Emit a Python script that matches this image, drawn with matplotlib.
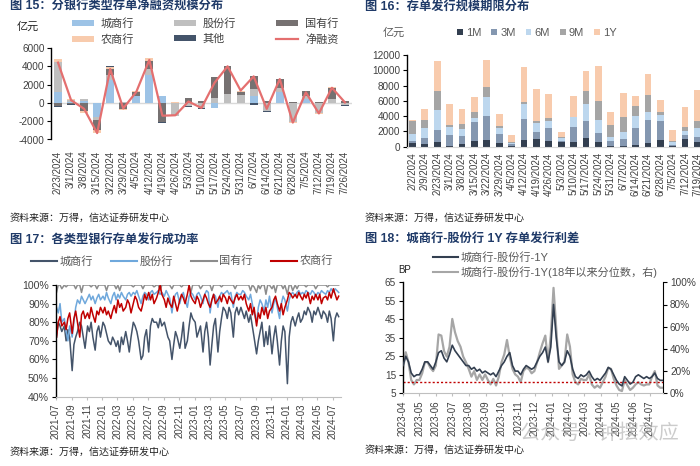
import matplotlib
matplotlib.use('Agg')
import matplotlib.pyplot as plt
import numpy as np
import pandas as pd
from matplotlib.patches import Patch
from matplotlib.lines import Line2D

plt.rcParams['font.family'] = ['Liberation Sans', 'Noto Sans CJK SC', 'DejaVu Sans']
plt.rcParams['axes.unicode_minus'] = False

# ---------------- Chart 15 data ----------------
dates15 = ['2/23/2024', '3/1/2024', '3/8/2024', '3/15/2024', '3/22/2024', '3/29/2024',
           '4/5/2024', '4/12/2024', '4/19/2024', '4/26/2024', '5/3/2024', '5/10/2024',
           '5/17/2024', '5/24/2024', '5/31/2024', '6/7/2024', '6/14/2024', '6/21/2024',
           '6/28/2024', '7/5/2024', '7/12/2024', '7/19/2024', '7/26/2024']
cs15 = [1200, 100, 250, -1500, 2500, 0, 700, 3000, 700, 0, 0, 0,
        -600, 0, 0, 700, 0, 1150, 0, 450, 0, 0, 0]
gf15 = [3300, 250, 200, -400, 500, 100, 100, 700, 0, -1400, -300, -600,
        500, 1000, 850, 800, -850, 450, -2100, 350, -1100, 450, -200]
gy15 = [-300, -150, -900, -1100, 700, -700, 400, 900, -2100, 0, 500, 250,
        2300, 3000, 350, 1400, 250, 1000, 100, 550, 150, 1200, 250]
ns15 = [300, 100, -200, -250, 200, -100, 100, 300, 0, 50, 50, 0,
        0, 50, 100, 50, 0, 50, -100, 0, -100, 50, 0]
qt15 = [-200, -50, 0, 0, 100, 0, 0, 0, -100, 0, -150, -100,
        0, 0, 0, -200, -100, 0, 0, 0, 0, 0, -100]
net15 = [4400, 300, -650, -3300, 3700, -600, 1200, 4700, -1400, -1350, 150, -550,
         2200, 4000, 1350, 2900, -650, 2600, -2150, 1150, -1150, 1650, 50]

# ---------------- Chart 16 data ----------------
dates16 = ['2/2/2024', '2/9/2024', '2/23/2024', '3/1/2024', '3/8/2024', '3/15/2024',
           '3/22/2024', '3/29/2024', '4/5/2024', '4/12/2024', '4/19/2024', '4/26/2024',
           '5/3/2024', '5/10/2024', '5/17/2024', '5/24/2024', '5/31/2024', '6/7/2024',
           '6/14/2024', '6/21/2024', '6/28/2024', '7/5/2024', '7/12/2024', '7/19/2024']
m1_16 = [500, 350, 650, 150, 400, 750, 850, 500, 150, 850, 950, 700,
         600, 650, 1100, 650, 100, 100, 200, 450, 900, 100, 1000, 650]
m3_16 = [300, 750, 1600, 1400, 1000, 2500, 3200, 1100, 250, 2750, 1000, 1800,
         100, 1900, 2200, 1200, 700, 900, 2200, 3000, 2500, 150, 550, 650]
m6_16 = [900, 1300, 2600, 1000, 900, 550, 2500, 900, 100, 2000, 1200, 800,
         500, 1300, 2300, 1650, 450, 900, 1600, 1050, 750, 400, 550, 1100]
m9_16 = [1600, 1100, 2500, 350, 700, 750, 1300, 200, 50, 300, 200, 500,
         100, 100, 1700, 2500, 1600, 2000, 1300, 2300, 450, 50, 450, 900]
y1_16 = [200, 1400, 3800, 2700, 1900, 2000, 3500, 1600, 950, 4500, 4150, 3100,
         600, 2700, 2600, 4600, 1750, 3100, 1300, 2700, 1500, 1500, 2700, 4100]

# ---------------- Chart 17 data (4 readings per month, 2021-07 .. 2024-07) ----------------
months17 = ['2021-07', '2024-07']
days17 = [3, 10, 17, 24]
cs17 = [72, 80, 78, 75, 78, 70, 76, 72, 54, 68, 72, 75, 80, 78, 72, 66, 78, 75, 80, 72, 65, 75, 78, 72,
        80, 78, 74, 70, 68, 72, 70, 67, 70, 64, 72, 68, 75, 70, 64, 72, 80, 78, 75, 70, 60, 62, 72, 76,
        64, 78, 82, 80, 80, 77, 82, 78, 80, 76, 72, 70, 60, 68, 75, 72, 66, 72, 80, 66, 70, 78, 85, 82,
        80, 72, 75, 78, 64, 75, 80, 72, 57, 68, 78, 82, 64, 75, 82, 88, 86, 82, 88, 85, 72, 85, 88, 84,
        88, 85, 82, 86, 80, 84, 78, 72, 63, 70, 75, 80, 67, 75, 68, 78, 63, 72, 78, 70, 57, 70, 78, 75,
        47, 72, 80, 83, 78, 82, 85, 80, 82, 86, 84, 88, 85, 80, 86, 84, 88, 85, 82, 86, 84, 80, 86, 82,
        70, 82, 85, 83]
gf17 = [88, 85, 90, 80, 82, 75, 70, 78, 72, 80, 88, 92, 90, 94, 92, 90, 93, 95, 92, 94, 90, 93, 95, 92,
        94, 92, 96, 93, 90, 94, 96, 92, 95, 93, 96, 94, 92, 95, 96, 94, 96, 95, 97, 94, 90, 94, 96, 95,
        92, 96, 97, 95, 96, 97, 95, 96, 94, 97, 95, 93, 85, 92, 95, 96, 90, 94, 96, 92, 88, 94, 96, 95,
        92, 95, 96, 94, 90, 95, 97, 96, 85, 92, 95, 94, 88, 94, 96, 95, 96, 97, 95, 96, 88, 94, 96, 95,
        95, 97, 96, 94, 92, 95, 90, 85, 80, 88, 92, 90, 86, 92, 88, 94, 85, 90, 93, 88, 82, 90, 94, 92,
        86, 92, 95, 96, 94, 96, 97, 95, 96, 95, 97, 96, 95, 97, 96, 94, 96, 95, 97, 96, 95, 97, 96, 98,
        96, 98, 97, 96]
gy17 = [96, 100, 100, 98, 100, 99, 100, 100, 100, 100, 98, 100, 100, 96, 100, 100, 100, 100, 99, 100,
        100, 98, 100, 100, 100, 100, 97, 100, 100, 100, 100, 98, 100, 97, 100, 100, 100, 100, 100, 100,
        99, 100, 100, 100, 100, 98, 100, 100, 100, 100, 100, 99, 100, 100, 97, 100, 100, 100, 100, 100,
        98, 100, 100, 100, 100, 99, 100, 100, 100, 100, 96, 100, 100, 100, 100, 98, 100, 100, 100, 100,
        100, 97, 100, 100, 100, 100, 99, 100, 100, 100, 100, 100, 100, 98, 100, 100, 100, 100, 100, 100,
        100, 97, 100, 99, 96, 100, 98, 100, 100, 95, 100, 100, 98, 100, 96, 100, 100, 100, 98, 100,
        95, 100, 100, 97, 100, 98, 100, 100, 100, 100, 99, 100, 100, 100, 100, 98, 100, 100, 100, 100,
        100, 99, 100, 100, 100, 100, 100, 100]
ns17 = [72, 80, 83, 78, 80, 76, 82, 85, 74, 82, 86, 80, 72, 84, 86, 82, 85, 82, 88, 84, 80, 86, 84, 88,
        85, 88, 84, 86, 82, 86, 89, 85, 92, 88, 90, 86, 88, 92, 90, 85, 90, 94, 92, 88, 86, 90, 95, 92,
        96, 92, 95, 90, 93, 96, 100, 95, 92, 88, 93, 90, 88, 94, 90, 86, 92, 95, 93, 90, 95, 100, 94, 92,
        90, 94, 92, 88, 92, 95, 93, 90, 88, 92, 95, 90, 92, 94, 91, 95, 93, 90, 94, 92, 90, 93, 95, 92,
        94, 92, 95, 90, 86, 90, 84, 88, 78, 85, 82, 88, 84, 88, 82, 86, 88, 92, 94, 90, 86, 90, 84, 88,
        92, 96, 95, 93, 95, 93, 96, 94, 92, 95, 93, 96, 90, 94, 92, 95, 92, 95, 90, 93, 94, 92, 96, 93,
        98, 95, 92, 94]

# ---------------- Chart 18 data ----------------
span18 = ['2023-04-01', '2024-07-25']
nav18 = [20, 25, 22, 16, 14, 15, 15, 18, 22, 22, 20, 18, 22, 27, 28, 24, 22, 26,
         31, 28, 26, 24, 22, 20, 20, 18, 19, 17, 18, 16, 17, 16, 15, 16, 14, 17,
         20, 22, 25, 27, 20, 17, 17, 15, 18, 20, 19, 18, 19, 22, 25, 27, 30, 22,
         30, 53, 35, 22, 20, 22, 28, 25, 18, 14, 13, 15, 14, 15, 17, 14, 12, 13, 12,
         14, 16, 19, 18, 15, 12, 10, 9, 14, 12, 10, 11, 14, 15, 14, 13, 14, 13,
         14, 16, 13, 12, 12]
pct18 = [22, 37, 28, 12, 8, 12, 12, 18, 28, 28, 23, 20, 25, 53, 52, 38, 33, 42,
         67, 55, 47, 42, 33, 28, 22, 15, 20, 12, 17, 12, 17, 12, 8, 13, 7, 15,
         28, 35, 48, 33, 22, 17, 15, 10, 20, 23, 22, 18, 20, 28, 37, 45, 52, 28,
         52, 95, 58, 22, 25, 28, 53, 42, 17, 10, 8, 13, 12, 12, 17, 8, 5, 7, 5,
         10, 15, 23, 22, 13, 7, 3, 2, 12, 7, 3, 5, 8, 10, 8, 7, 8, 8,
         15, 20, 7, 5, 5]
ref18 = 10  # percentile reference line (%)

TITLE_C = '#1F3A68'
TICK_C = '#404040'

fig = plt.figure(figsize=(7, 4.66), dpi=100)
W, H = 700.0, 466.0


def fx(px):
    return px / W


def fy(py):
    return 1 - py / H


def title(px, py, s):
    fig.text(fx(px), fy(py), s, fontsize=8.8, fontweight='bold', color=TITLE_C,
             ha='left', va='center')


def source(px, py):
    fig.text(fx(px), fy(py), '资料来源：万得，信达证券研发中心', fontsize=7.2,
             color='#222222', ha='left', va='center', style='italic')


def style_left(ax):
    for s in ['top', 'right']:
        ax.spines[s].set_visible(False)
    ax.spines['left'].set_color('#000000')
    ax.spines['left'].set_linewidth(1.0)
    ax.tick_params(axis='y', direction='out', length=3, width=0.8, labelsize=7.2,
                   labelcolor=TICK_C, pad=2)
    ax.tick_params(axis='x', labelsize=7, labelcolor=TICK_C)


# ================= Chart 15 =================
ax15 = fig.add_axes([fx(51.5), fy(139.5), fx(300), (139.5 - 48) / H])
x15 = np.arange(len(dates15))
cols15 = ['#9DC3E6', '#BFBFBF', '#767171', '#F8CBAD', '#44546A']
names15 = ['城商行', '股份行', '国有行', '农商行', '其他']
pos = np.zeros(len(x15))
neg = np.zeros(len(x15))
handles15 = {}
for vals, nm, c in zip([cs15, gf15, gy15, ns15, qt15], names15, cols15):
    v = np.array(vals, dtype=float)
    b = np.where(v >= 0, pos, neg)
    ax15.bar(x15, v, 0.6, bottom=b, color=c, zorder=2)
    pos += np.clip(v, 0, None)
    neg += np.clip(v, None, 0)
    handles15[nm] = Patch(facecolor=c, edgecolor='none')
ax15.axhline(0, color='#D9D9D9', lw=1.0, zorder=1)
ax15.plot(x15, net15, color='#E46F6F', lw=1.6, zorder=3)
handles15['净融资'] = Line2D([], [], color='#E46F6F', lw=1.6)
ax15.set_xlim(-0.5, len(x15) - 0.5)
ax15.set_ylim(-4000, 6000)
ax15.set_yticks(range(-4000, 6001, 2000))
ax15.set_xticks(x15)
ax15.set_xticklabels(dates15, rotation=90)
style_left(ax15)
ax15.spines['bottom'].set_visible(False)
ax15.tick_params(axis='x', length=0, pad=8)
order15 = ['城商行', '农商行', '股份行', '其他', '国有行', '净融资']
fig.legend([handles15[k] for k in order15], order15, ncol=3, loc='center',
           bbox_to_anchor=(fx(205), fy(31.5)), frameon=False, fontsize=8,
           handlelength=2.0, handleheight=0.5, handletextpad=0.6,
           columnspacing=3.6, labelspacing=0.45, borderpad=0,
           labelcolor='#404040')
fig.text(fx(17), fy(27), '亿元', fontsize=8, color='#222222', ha='left', va='center')
title(10, 7, '图 15：分银行类型存单净融资规模分布')
source(10, 218)

# ================= Chart 16 =================
x16 = np.arange(len(dates16))
sp = 12.39
x0px = 412.5
left_px = x0px - 0.42 * sp
right_val = 24.6
ax16 = fig.add_axes([fx(left_px), fy(146.7), (x0px + right_val * sp - left_px) / W,
                     (146.7 - 55) / H])
cols16 = ['#333F50', '#8497B0', '#BDD7EE', '#A5A5A5', '#F8CBAD']
names16 = ['1M', '3M', '6M', '9M', '1Y']
bot = np.zeros(len(x16))
for vals, nm, c in zip([m1_16, m3_16, m6_16, m9_16, y1_16], names16, cols16):
    v = np.array(vals, dtype=float)
    ax16.bar(x16, v, 0.55, bottom=bot, color=c, label=nm, zorder=2)
    bot += v
ax16.set_xlim(-0.42, right_val)
ax16.set_ylim(0, 12000)
ax16.set_yticks(range(0, 12001, 2000))
ax16.set_xticks(x16)
ax16.set_xticklabels(dates16, rotation=90)
style_left(ax16)
ax16.spines['bottom'].set_color('#D9D9D9')
ax16.tick_params(axis='x', length=0, pad=4)
fig.legend([Patch(facecolor=c, edgecolor='none') for c in cols16], names16, ncol=5,
           loc='center', bbox_to_anchor=(fx(537), fy(33)), frameon=False, fontsize=8,
           handlelength=0.5, handleheight=0.5, handletextpad=0.3, columnspacing=0.9,
           borderpad=0, labelcolor='#595959')
fig.text(fx(383), fy(33), '亿元', fontsize=8, color='#595959', ha='left', va='center')
title(365, 7, '图 16：存单发行规模期限分布')
source(365, 218)

# ================= Chart 17 =================
mlist = pd.period_range(months17[0], months17[1], freq='M')
dates17 = [pd.Timestamp(year=m.year, month=m.month, day=d) for m in mlist for d in days17]
ax17 = fig.add_axes([fx(56), fy(396.7), fx(340.7 - 56), (396.7 - 285) / H])
cols17 = ['#44546A', '#6FA8DC', '#8C8C8C', '#C00000']
names17 = ['城商行', '股份行', '国有行', '农商行']
for vals, nm, c in zip([cs17, gf17, gy17, ns17], names17, cols17):
    ax17.plot(dates17, vals, color=c, lw=1.1, label=nm)
ax17.set_xlim(pd.Timestamp('2021-07-01'), pd.Timestamp('2024-08-01'))
ax17.set_ylim(40, 100)
ax17.set_yticks(range(40, 101, 10))
ax17.set_yticklabels([f'{v}%' for v in range(40, 101, 10)])
tk17 = pd.date_range('2021-07-01', '2024-07-01', freq='2MS')
ax17.set_xticks(tk17)
ax17.set_xticklabels([d.strftime('%Y-%m') for d in tk17], rotation=90)
style_left(ax17)
ax17.tick_params(axis='y', labelsize=7.6)
ax17.spines['bottom'].set_color('#BFBFBF')
ax17.tick_params(axis='x', length=2, color='#BFBFBF', pad=3)
fig.legend([Line2D([], [], color=c, lw=1.5) for c in cols17], names17, ncol=4,
           loc='center', bbox_to_anchor=(fx(182), fy(261)), frameon=False, fontsize=8,
           handlelength=2.3, handletextpad=0.2, columnspacing=1.7, borderpad=0,
           labelcolor='#595959')
title(10, 240, '图 17：各类型银行存单发行成功率')
source(10, 452)

# ================= Chart 18 =================
dates18 = pd.date_range(span18[0], span18[1], periods=len(nav18))
ax18 = fig.add_axes([fx(403), fy(393.3), fx(663 - 403), (393.3 - 282.3) / H])
ax18.plot(dates18, nav18, color='#333F50', lw=1.2, zorder=3)
ax18.set_ylim(5, 65)
ax18.set_yticks(range(5, 66, 10))
ax18.set_xlim(pd.Timestamp(span18[0]), pd.Timestamp(span18[1]))
tk18 = pd.date_range('2023-04-01', '2024-07-01', freq='MS')
ax18.set_xticks(tk18)
ax18.set_xticklabels([d.strftime('%Y-%m') for d in tk18], rotation=90)
style_left(ax18)
ax18.spines['bottom'].set_color('#BFBFBF')
ax18.tick_params(axis='x', length=2, color='#BFBFBF', pad=3)
ax18r = ax18.twinx()
ax18r.plot(dates18, pct18, color='#A6A6A6', lw=1.6, zorder=2)
ax18r.axhline(ref18, color='#C00000', lw=1.0, ls=(0, (1.5, 1.5)))
ax18r.set_ylim(0, 100)
ax18r.set_yticks(range(0, 101, 20))
ax18r.set_yticklabels([f'{v}%' for v in range(0, 101, 20)])
for s in ['top', 'left', 'bottom']:
    ax18r.spines[s].set_visible(False)
ax18r.spines['right'].set_color('#000000')
ax18r.tick_params(axis='y', direction='out', length=3, labelsize=7.2,
                  labelcolor=TICK_C, pad=2)
ax18.set_zorder(ax18r.get_zorder() + 1)
ax18.patch.set_visible(False)
fig.legend([Line2D([], [], color='#333F50', lw=1.5), Line2D([], [], color='#A6A6A6', lw=1.5)],
           ['城商行-股份行-1Y', '城商行-股份行-1Y(18年以来分位数，右)'],
           loc='center left', bbox_to_anchor=(fx(427), fy(265)), frameon=False, fontsize=8,
           handlelength=2.3, handletextpad=0.2, labelspacing=0.35, borderpad=0,
           labelcolor='#595959')
fig.text(fx(398), fy(270), 'BP', fontsize=7, color='#222222', ha='left', va='center')
title(365, 239, '图 18：城商行-股份行 1Y 存单发行利差')
source(365, 450)

# watermark
fig.text(fx(520), fy(433), '公众号 · 钟摆效应', fontsize=14.5, color='#BBBBBB',
         alpha=0.75, ha='left', va='center')

fig.savefig('out.png', dpi=100)
